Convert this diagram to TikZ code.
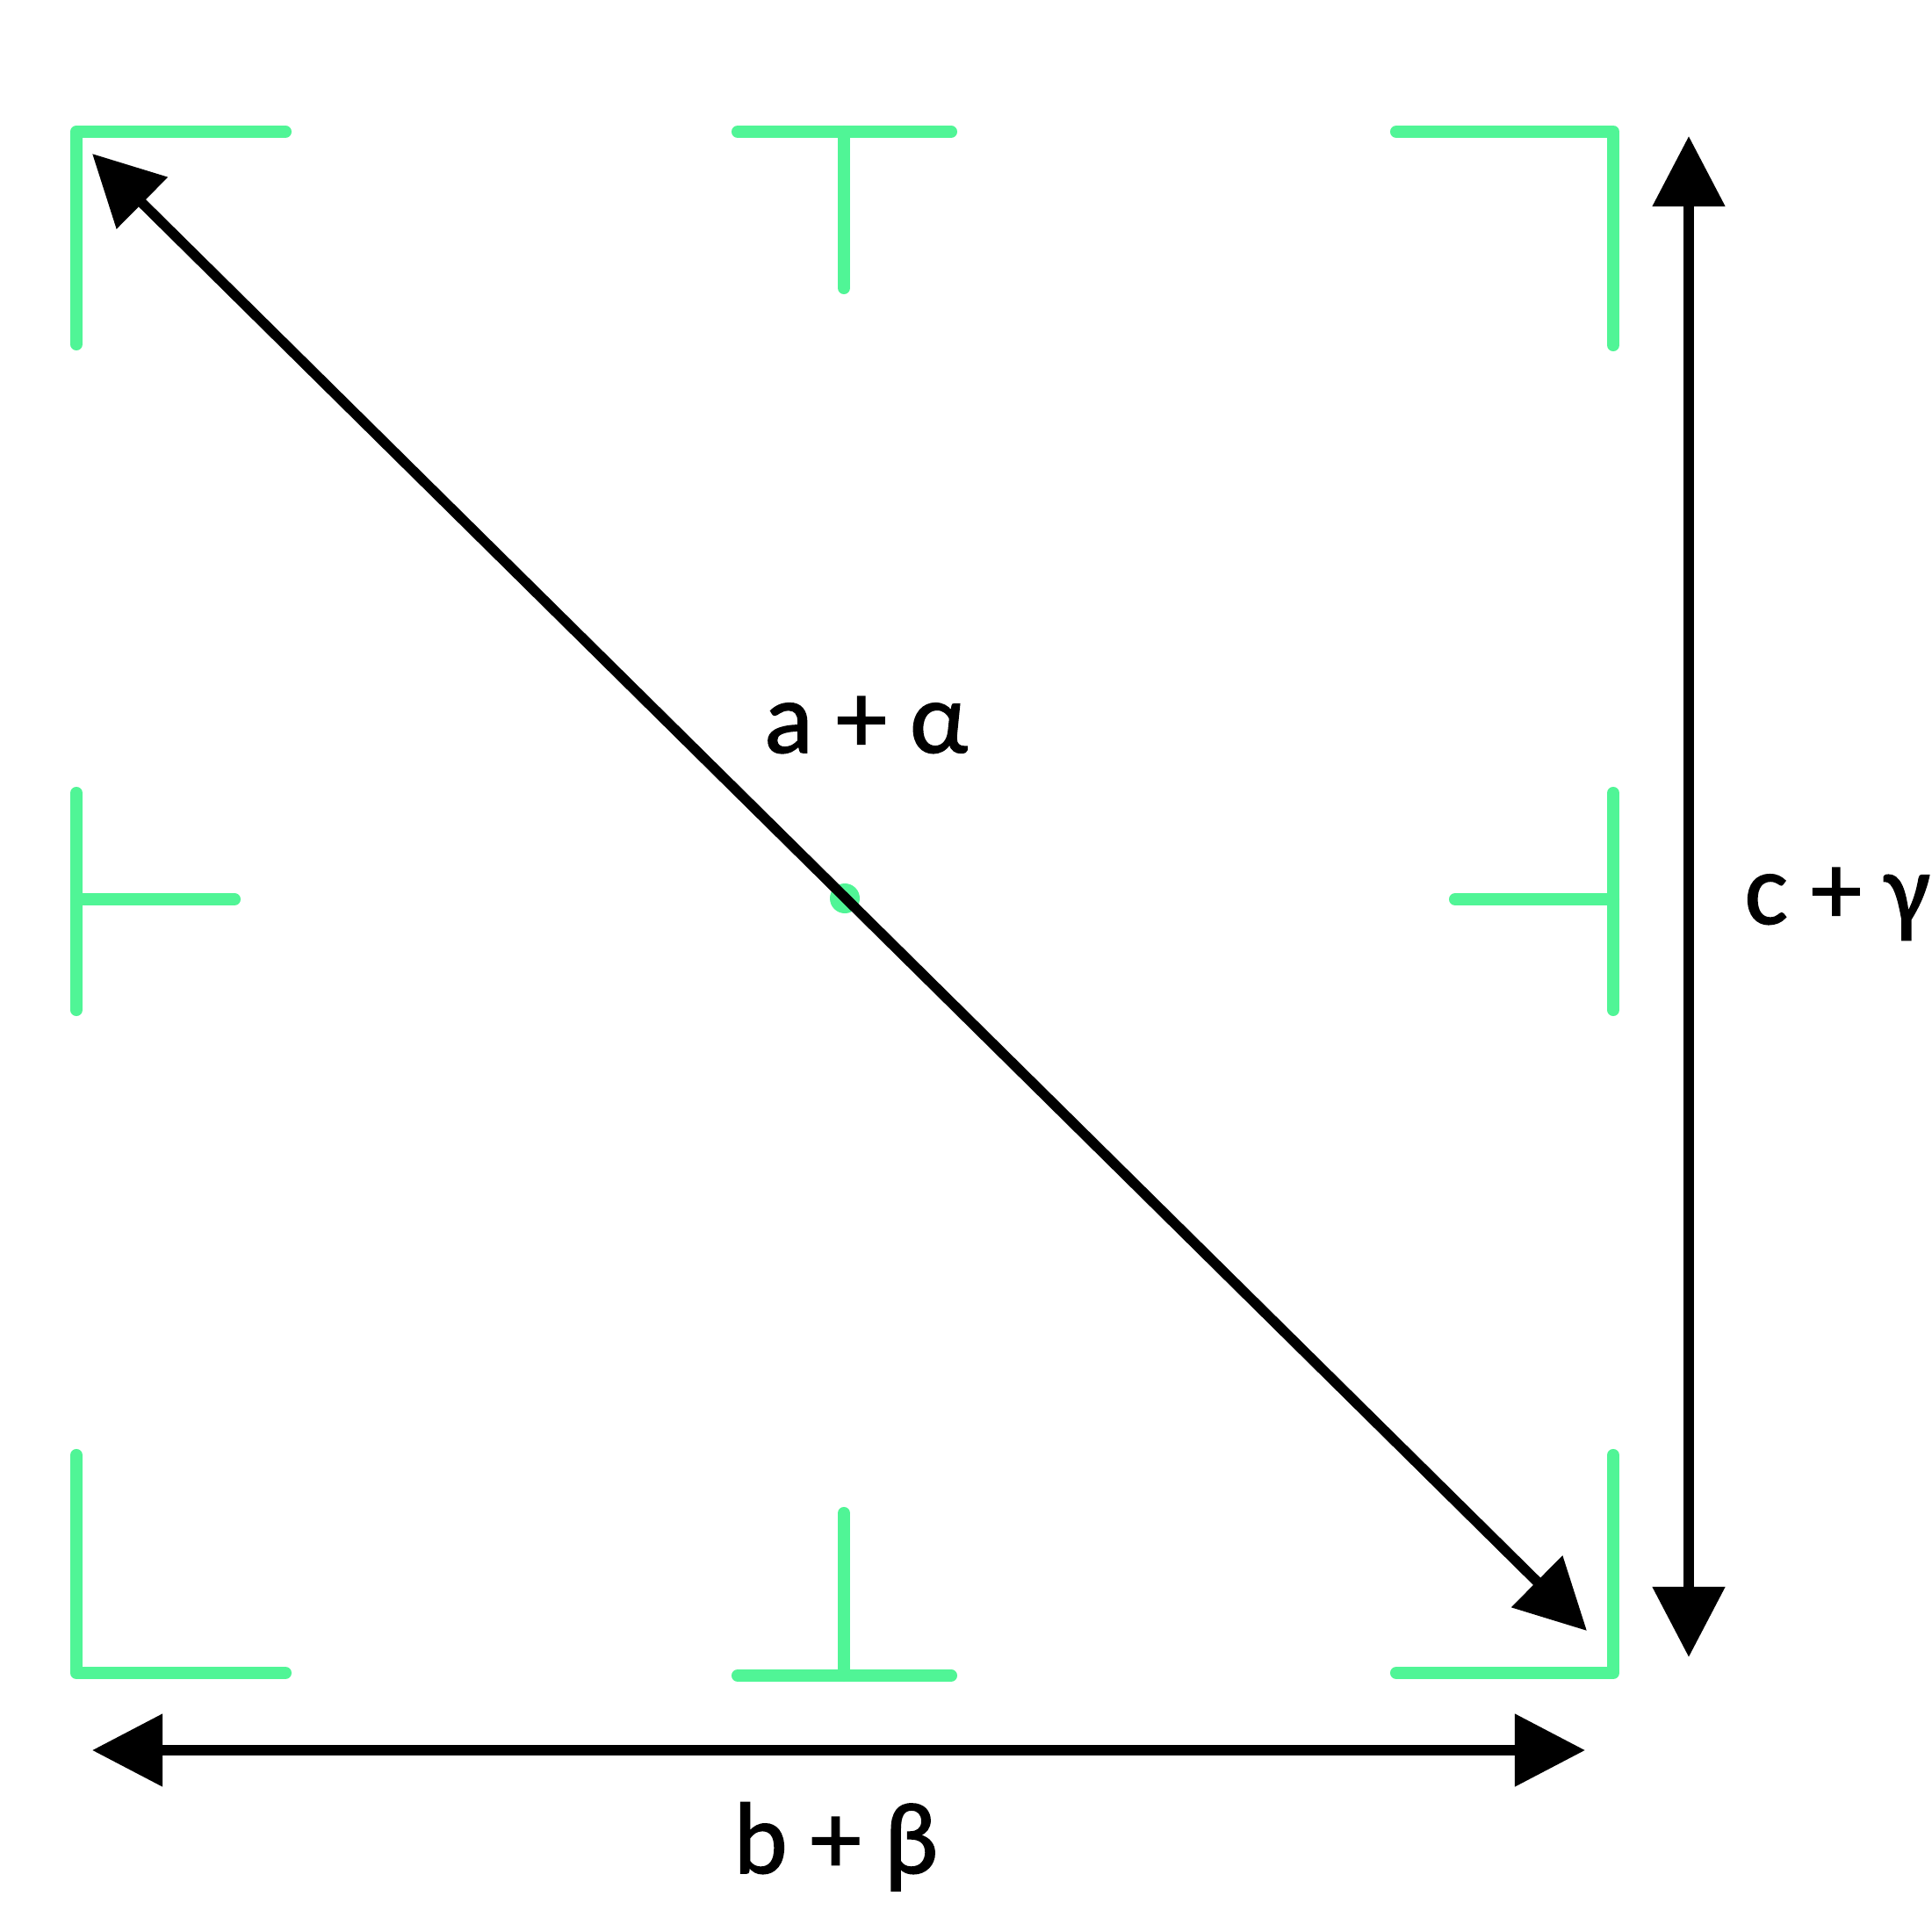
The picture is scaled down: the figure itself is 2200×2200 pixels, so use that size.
\documentclass[tikz,border=0pt]{standalone}
\usepackage{fontspec}
\setmainfont{Carlito}
\newfontfamily\lblfont[FakeBold=1.3]{Carlito}
\usetikzlibrary{arrows.meta}
\definecolor{markgreen}{RGB}{80,245,150}
\begin{document}
\begin{tikzpicture}[x=0.01cm,y=-0.01cm,
  guide/.style={draw=markgreen, line width=4pt, line cap=round, line join=round},
  dimarrow/.style={draw=black, line width=3.3pt,
    {Triangle[length=0.8cm,width=0.8cm]}-{Triangle[length=0.8cm,width=0.8cm]}},
  lbl/.style={font=\lblfont\fontsize{33}{40}\selectfont, inner sep=0pt}]
\useasboundingbox (0,0) rectangle (2200,2200);
% green crop marks
\draw[guide] (87,392) -- (87,150) -- (325,150);
\draw[guide] (840,150) -- (1083,150);
\draw[guide] (961,150) -- (961,328);
\draw[guide] (1590,150) -- (1837,150) -- (1837,393);
\draw[guide] (87,903) -- (87,1150);
\draw[guide] (87,1024) -- (267,1024);
\draw[guide] (1837,903) -- (1837,1150);
\draw[guide] (1657,1024) -- (1837,1024);
\draw[guide] (87,1657) -- (87,1905) -- (325,1905);
\draw[guide] (961,1723) -- (961,1908);
\draw[guide] (840,1908) -- (1083,1908);
\draw[guide] (1837,1657) -- (1837,1905) -- (1590,1905);
\fill[markgreen] (962,1023) circle[radius=0.17cm];
% arrow end points
\coordinate (dTL) at (105,175);
\coordinate (dBR) at (1807,1857);
\coordinate (vT) at (1923,155);
\coordinate (vB) at (1923,1887);
\coordinate (hL) at (105,1993);
\coordinate (hR) at (1805,1993);
\draw[dimarrow] (dTL) -- (dBR);
\draw[dimarrow] (vT) -- (vB);
\draw[dimarrow] (hL) -- (hR);
% labels
\node[lbl, anchor=base] (la) at (986,857) {a + α};
\node[lbl, anchor=base] (lb) at (952,2133) {b + β};
\node[lbl, anchor=base west] (lc) at (1986,1052) {c + γ};
\end{tikzpicture}
\end{document}
